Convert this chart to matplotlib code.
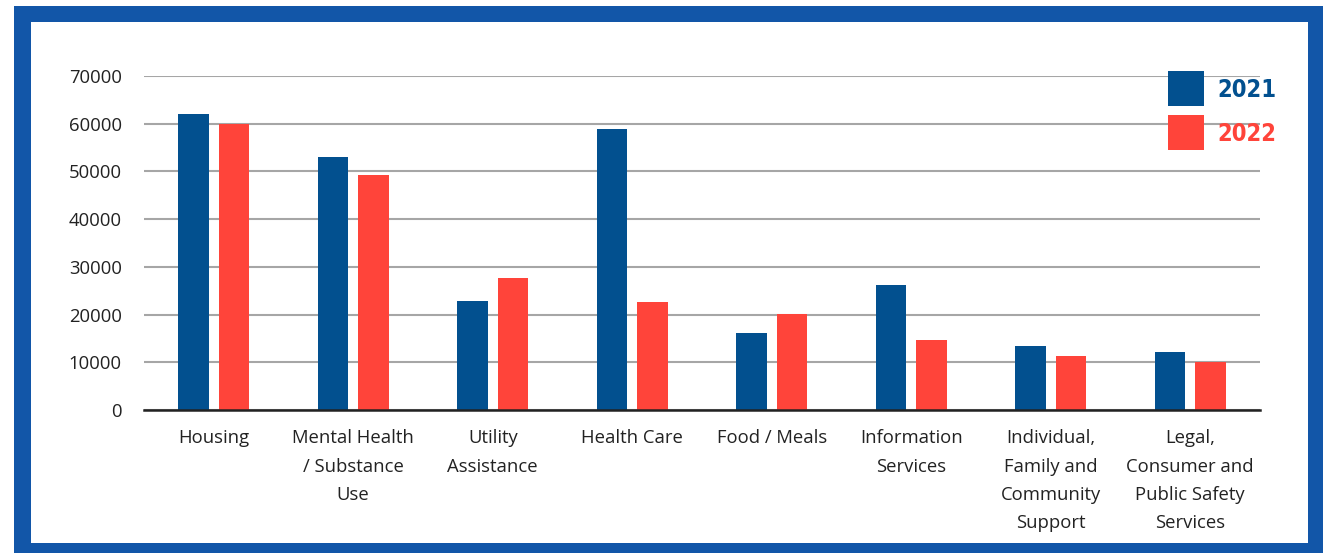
import matplotlib.pyplot as plt
import numpy as np
from matplotlib.patches import Rectangle

categories = [
    "Housing",
    "Mental Health\n/ Substance\nUse",
    "Utility\nAssistance",
    "Health Care",
    "Food / Meals",
    "Information\nServices",
    "Individual,\nFamily and\nCommunity\nSupport",
    "Legal,\nConsumer and\nPublic Safety\nServices",
]
values_2021 = [62000, 53000, 22900, 58900, 16100, 26200, 13500, 12100]
values_2022 = [60000, 49200, 27700, 22700, 20100, 14700, 11400, 10100]
series_labels = ["2021", "2022"]

BLUE = "#02508f"
RED = "#ff443a"
BORDER = "#1256a8"

W, H = 1327, 553
fig = plt.figure(figsize=(W / 100, H / 100), dpi=100, facecolor="white")

# blue frame around the chart
fig.patches.append(Rectangle((14 / W, 0), (1323 - 14) / W, (553 - 6) / H,
                             transform=fig.transFigure, facecolor=BORDER, edgecolor="none", zorder=-2))
fig.patches.append(Rectangle((31 / W, (553 - 543) / H), (1308 - 31) / W, (543 - 22) / H,
                             transform=fig.transFigure, facecolor="white", edgecolor="none", zorder=-1))

ax = fig.add_axes([144 / W, (553 - 410) / H, (1260 - 144) / W, (410 - 76) / H])
ax.patch.set_alpha(0)

x = np.arange(len(categories))
width = 0.22
ax.bar(x - 0.145, values_2021, width, color=BLUE, zorder=3)
ax.bar(x + 0.145, values_2022, width, color=RED, zorder=3)

ax.set_xlim(-0.5, len(categories) - 0.5)
ax.set_ylim(0, 70000)
ax.set_yticks(np.arange(0, 70001, 10000))
ax.yaxis.grid(True, color="#a6a6a6", linewidth=1.5, zorder=0)
ax.set_axisbelow(True)
for side in ["top", "right", "left"]:
    ax.spines[side].set_visible(False)
ax.spines["bottom"].set_color("#222222")
ax.spines["bottom"].set_linewidth(1.8)
ax.spines["bottom"].set_zorder(4)
ax.tick_params(axis="both", length=0, labelsize=13.3, colors="#222222")
ax.tick_params(axis="y", pad=16)
ax.tick_params(axis="x", pad=14)
ax.set_xticks(x, categories, fontfamily="Open Sans", linespacing=1.72, va="top")
for lab in ax.get_yticklabels():
    lab.set_fontfamily("Open Sans")

# legend: coloured squares with condensed bold labels
narrow = ["DejaVu Sans", "Liberation Sans Narrow"]
for i, (lab, col) in enumerate(zip(series_labels, [BLUE, RED])):
    y0 = (553 - 106 - i * 44) / H
    fig.patches.append(Rectangle((1168 / W, y0), 36 / W, 35 / H, transform=fig.transFigure,
                                 facecolor=col, edgecolor="none", zorder=5))
    fig.text(1217 / W, y0 + 16 / H, lab, color=col, fontsize=17, fontweight="bold",
             family=narrow, fontstretch="condensed",
             va="center", ha="left", zorder=6)

fig.savefig("out.png", dpi=100, facecolor="white")
